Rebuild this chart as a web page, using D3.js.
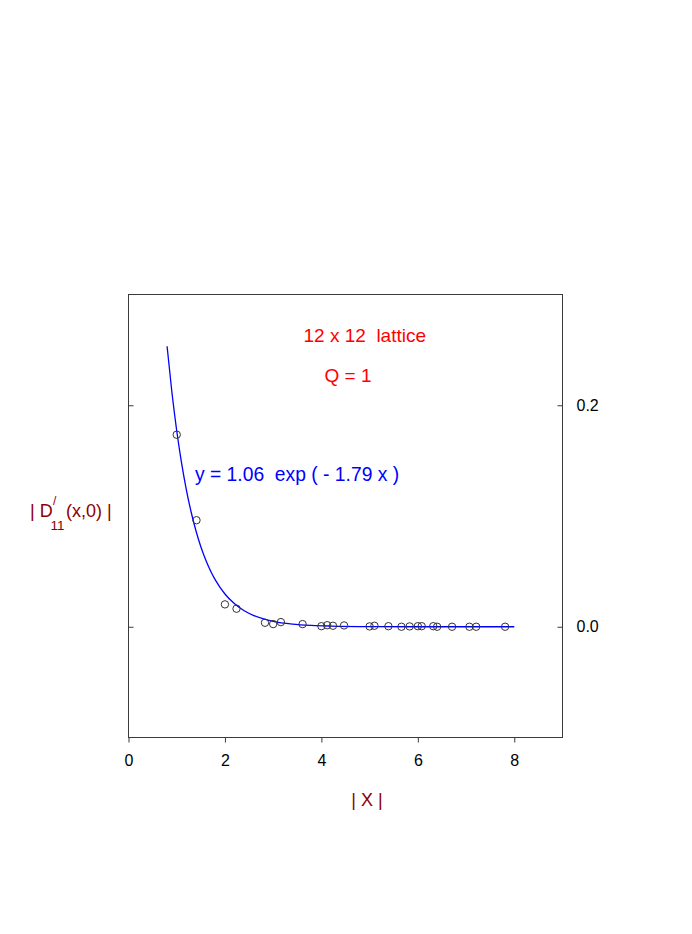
<!DOCTYPE html>
<html>
<head>
<meta charset="utf-8">
<script src="https://cdn.jsdelivr.net/npm/d3@7"></script>
<style>
  html, body { margin: 0; padding: 0; background: #fff; }
  svg { display: block; font-family: "Liberation Sans", Arial, Helvetica, sans-serif; }
  text { white-space: pre; }
</style>
</head>
<body>
<svg id="chart" width="692" height="934"></svg>
<script>
// ---- data ----
const pointX = [1.00, 1.41, 2.00, 2.24, 2.83, 3.00, 3.16, 3.61, 4.00, 4.12, 4.24, 4.47,
                5.00, 5.10, 5.39, 5.66, 5.83, 6.00, 6.08, 6.32, 6.40, 6.71, 7.07, 7.21, 7.81];
const pointY = [0.1734, 0.0962, 0.0202, 0.0163, 0.0036, 0.0024, 0.0042, 0.0024, 0.0005, 0.0014, 0.0009, 0.0012,
                0.0003, 0.0009, 0.0005, 0.0000, 0.0003, 0.0005, 0.0005, 0.0005, 0.0000, 0.0000, 0.0000, 0.0000, 0.0000];
const fitX = [0.8, 0.9, 1.0, 1.1, 1.2, 1.3, 1.4, 1.5, 1.6, 1.7, 1.8, 2.0, 2.2, 2.4, 2.6, 2.8, 3.0, 3.4, 3.8, 4.2, 5.0, 6.0, 8.0];
const fitY = [0.2533, 0.2117, 0.1770, 0.1480, 0.1237, 0.1034, 0.0865, 0.0723, 0.0605, 0.0506, 0.0423, 0.0296, 0.0207,
              0.0144, 0.0101, 0.0071, 0.0049, 0.0024, 0.0012, 0.0006, 0.0001, 0.0000, 0.0000];
const xTicks = [0, 2, 4, 6, 8];
const yTicks = [0.0, 0.2];
const titleText = "12 x 12  lattice";
const qText = "Q = 1";
const fitText = "y = 1.06  exp ( - 1.79 x )";

// ---- layout ----
const svg = d3.select("#chart");
const L = 128.5, R = 562.5, T = 294.5, B = 737.5;
const x = d3.scaleLinear().domain([0, 9]).range([L, R]);
const y = d3.scaleLinear().domain([-0.1, 0.3]).range([B, T]);
const frameColor = "#3a3a3a";
const labelColor = "#8b0000";

// frame
svg.append("rect")
  .attr("x", L).attr("y", T).attr("width", R - L).attr("height", B - T)
  .attr("fill", "none").attr("stroke", frameColor).attr("stroke-width", 1);

function styleAxis(g) {
  g.attr("font-size", 16).attr("font-family", "'Liberation Sans', Arial, sans-serif");
  g.select(".domain").remove();
  g.selectAll(".tick line").attr("stroke", frameColor);
  g.selectAll(".tick text").attr("fill", "#000");
}

// bottom axis
svg.append("g").attr("transform", `translate(0,${B})`)
  .call(d3.axisBottom(x).tickValues(xTicks).tickFormat(d3.format("d"))
        .tickSizeInner(5).tickSizeOuter(0).tickPadding(12))
  .call(styleAxis);

// left axis (inward ticks, no labels)
svg.append("g").attr("transform", `translate(${L},0)`)
  .call(d3.axisLeft(y).tickValues(yTicks).tickFormat("")
        .tickSizeInner(-5).tickSizeOuter(0))
  .call(styleAxis);

// right axis (inward ticks, labels outside)
svg.append("g").attr("transform", `translate(${R},0)`)
  .call(d3.axisRight(y).tickValues(yTicks).tickFormat(d3.format(".1f"))
        .tickSizeInner(-5).tickSizeOuter(0).tickPadding(14))
  .call(styleAxis);

// fit curve
const fitData = fitX.map((v, i) => [v, fitY[i]]);
svg.append("path")
  .datum(fitData)
  .attr("fill", "none").attr("stroke", "#0000ff").attr("stroke-width", 1.3)
  .attr("d", d3.line().x(d => x(d[0])).y(d => y(d[1])).curve(d3.curveMonotoneX));

// data points
const pts = pointX.map((v, i) => [v, pointY[i]]);
svg.append("g").selectAll("circle").data(pts).join("circle")
  .attr("cx", d => x(d[0])).attr("cy", d => y(d[1])).attr("r", 3.7)
  .attr("fill", "none").attr("stroke", "#333").attr("stroke-width", 1);

// annotations
svg.append("text").attr("x", 303.5).attr("y", 341.7).attr("fill", "#ff0000")
  .style("font-size", "19px").text(titleText);
svg.append("text").attr("x", 324.5).attr("y", 381.7).attr("fill", "#ff0000")
  .style("font-size", "19px").text(qText);
svg.append("text").attr("x", 195).attr("y", 481).attr("fill", "#0000ff")
  .style("font-size", "19.3px").text(fitText);

// x label
svg.append("text").attr("x", 367).attr("y", 806).attr("text-anchor", "middle")
  .attr("fill", labelColor).style("font-size", "18px").text("| X |");

// y label
const yl = svg.append("text").attr("fill", labelColor).style("font-size", "18px");
yl.append("tspan").attr("x", 30).attr("y", 516.7).text("| D");
yl.append("tspan").attr("x", 53).attr("y", 505).style("font-size", "12px").text("/");
yl.append("tspan").attr("x", 50.5).attr("y", 530).style("font-size", "13.5px").text("11");
yl.append("tspan").attr("x", 66).attr("y", 516.7).text("(x,0) |");
</script>
</body>
</html>
